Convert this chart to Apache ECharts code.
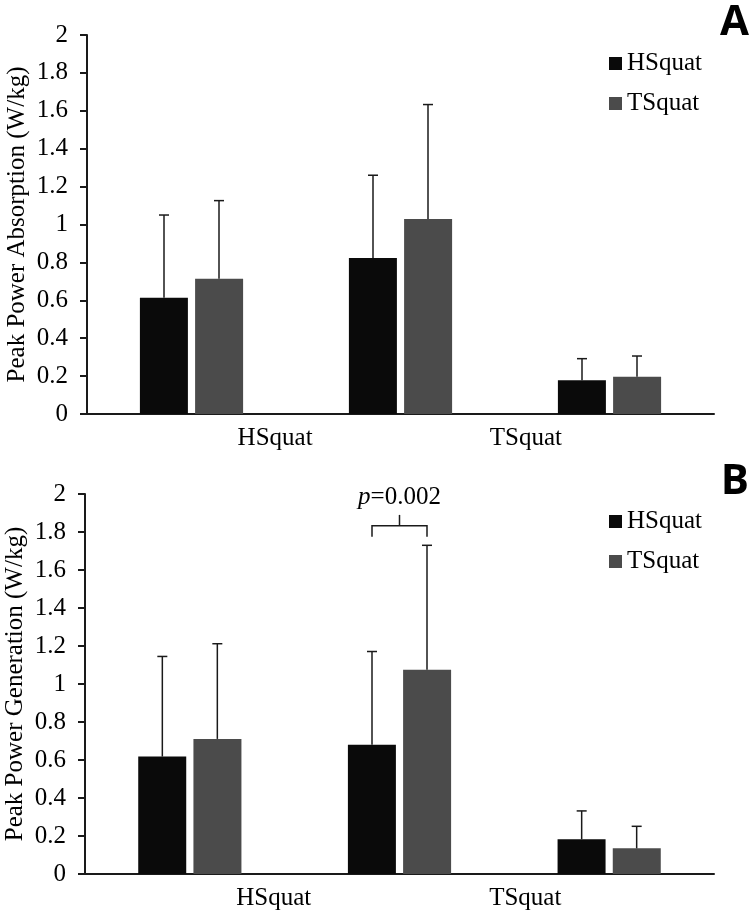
<!DOCTYPE html>
<html lang="en">
<head>
    <meta charset="UTF-8">
    <title>Peak Power</title>
    <style>
        * {
            margin: 0;
            padding: 0;
        }

        .main {
            width: 752px;
            height: 915px;
            background: #fff;
        }
    </style>
</head>
<body>
<div id="main" class="main"></div>
<script src="https://cdn.jsdelivr.net/npm/echarts@6/dist/echarts.min.js"></script>
<script>
    var categories = ['1', '2', '3'];
    var xLabels = ['', 'HSquat', '', 'TSquat', ''];
    var seriesNames = ['HSquat', 'TSquat'];
    var yTicks = [0, 2, 0.2];  // min, max, interval

    // A: peak power absorption (mean, sd)
    var absorbH = [0.614, 0.823, 0.178];
    var absorbHsd = [0.436, 0.437, 0.114];
    var absorbT = [0.714, 1.029, 0.197];
    var absorbTsd = [0.412, 0.604, 0.109];

    // B: peak power generation (mean, sd)
    var genH = [0.618, 0.680, 0.183];
    var genHsd = [0.527, 0.491, 0.149];
    var genT = [0.711, 1.075, 0.135];
    var genTsd = [0.501, 0.655, 0.116];

    // significance bracket in B, between the two bars of category 2
    var sigCategory = 1;
    var sigLevels = [1.775, 1.833, 1.89, 1.98]; // leg end, bar, tip, label
    var sigText = '0.002';

    var font = 'Liberation Serif';
    var colors = ['#0a0a0a', '#4b4b4b'];
    var barOffset = 27.5;

    var myChart = echarts.init(document.getElementById('main'), null, {renderer: 'canvas'});

    function errData(mean, sd) {
        return mean.map(function (m, i) {
            return [i, m, sd[i]];
        });
    }

    function errorBar(offset) {
        return function (params, api) {
            var c = api.value(0), m = api.value(1), s = api.value(2);
            var base = api.coord([c, m]);
            var top = api.coord([c, m + s]);
            var x = base[0] + offset;
            var st = {stroke: '#1a1a1a', lineWidth: 1.5};
            return {
                type: 'group',
                children: [
                    {type: 'line', shape: {x1: x, y1: base[1], x2: x, y2: top[1]}, style: st},
                    {type: 'line', shape: {x1: x - 5, y1: top[1], x2: x + 5, y2: top[1]}, style: st}
                ]
            };
        };
    }

    function bracket(params, api) {
        var c = api.value(0);
        var leg = api.coord([c, sigLevels[0]]);
        var bar = api.coord([c, sigLevels[1]]);
        var tip = api.coord([c, sigLevels[2]]);
        var lab = api.coord([c, sigLevels[3]]);
        var x1 = leg[0] - barOffset, x2 = leg[0] + barOffset;
        var st = {stroke: '#1a1a1a', lineWidth: 1.5, fill: null};
        return {
            type: 'group',
            children: [
                {type: 'polyline', shape: {points: [[x1, leg[1]], [x1, bar[1]], [x2, bar[1]], [x2, leg[1]]]}, style: st},
                {type: 'line', shape: {x1: leg[0], y1: bar[1], x2: leg[0], y2: tip[1]}, style: st},
                {
                    type: 'text', x: leg[0], y: lab[1],
                    style: {
                        text: '{i|p}=' + sigText, align: 'center', verticalAlign: 'middle',
                        fontFamily: font, fontSize: 25, fill: '#000',
                        rich: {i: {fontStyle: 'italic', fontFamily: font, fontSize: 25}}
                    }
                }
            ]
        };
    }

    function panelAxes(idx) {
        return {
            x: [{
                gridIndex: idx, type: 'category', data: categories,
                axisLine: {lineStyle: {color: '#1a1a1a', width: 2}},
                axisTick: {show: false},
                axisLabel: {show: false}
            }, {
                gridIndex: idx, type: 'category', data: xLabels, position: 'bottom',
                axisLine: {show: false},
                axisTick: {show: false},
                axisLabel: {show: true, interval: 0, margin: 12, fontFamily: font, fontSize: 25, color: '#000'}
            }],
            y: {
                gridIndex: idx, type: 'value', min: yTicks[0], max: yTicks[1], interval: yTicks[2],
                name: idx === 0 ? 'Peak Power Absorption (W/kg)' : 'Peak Power Generation (W/kg)',
                nameLocation: 'middle', nameGap: 57, nameMoveOverlap: false,
                nameTextStyle: {fontFamily: font, fontSize: 25, color: '#000'},
                axisLine: {show: true, lineStyle: {color: '#1a1a1a', width: 2}},
                axisTick: {show: true, length: 7, lineStyle: {color: '#1a1a1a', width: 2}},
                axisLabel: {margin: 19, fontFamily: font, fontSize: 25, color: '#000'},
                splitLine: {show: false}
            }
        };
    }

    var axA = panelAxes(0), axB = panelAxes(1);

    function barSeries(name, xi, yi, data, color) {
        return {
            name: name, type: 'bar', xAxisIndex: xi, yAxisIndex: yi,
            data: data, barWidth: 48, barGap: '15%',
            itemStyle: {color: color}
        };
    }

    function errSeries(xi, yi, mean, sd, offset) {
        return {
            type: 'custom', xAxisIndex: xi, yAxisIndex: yi,
            data: errData(mean, sd), renderItem: errorBar(offset),
            encode: {x: 0, y: 1}, z: 3, silent: true
        };
    }

    var legendStyle = {
        orient: 'vertical', left: 609, padding: 0, itemWidth: 13, itemHeight: 13, itemGap: 15,
        icon: 'rect', data: seriesNames,
        textStyle: {fontFamily: font, fontSize: 25, lineHeight: 25, color: '#000'}
    };

    myChart.setOption({
        animation: false,
        backgroundColor: '#fff',
        color: colors,
        legend: [
            Object.assign({}, legendStyle, {top: 51}),
            Object.assign({}, legendStyle, {top: 509})
        ],
        grid: [
            {left: 87, right: 38, top: 35, height: 379, outerBoundsMode: 'none', containLabel: false},
            {left: 85, right: 38, top: 494, height: 380, outerBoundsMode: 'none', containLabel: false}
        ],
        xAxis: axA.x.concat(axB.x),
        yAxis: [axA.y, axB.y],
        graphic: [
            {type: 'text', right: 3, top: 2, style: {text: 'A', fontFamily: 'Open Sans', fontWeight: 'bold', fontSize: 42, fill: '#000'}},
            {type: 'text', right: 3, top: 461, style: {text: 'B', fontFamily: 'Open Sans', fontWeight: 'bold', fontSize: 42, fill: '#000'}}
        ],
        series: [
            barSeries(seriesNames[0], 0, 0, absorbH, colors[0]),
            barSeries(seriesNames[1], 0, 0, absorbT, colors[1]),
            errSeries(0, 0, absorbH, absorbHsd, -barOffset),
            errSeries(0, 0, absorbT, absorbTsd, barOffset),
            barSeries(seriesNames[0], 2, 1, genH, colors[0]),
            barSeries(seriesNames[1], 2, 1, genT, colors[1]),
            errSeries(2, 1, genH, genHsd, -barOffset),
            errSeries(2, 1, genT, genTsd, barOffset),
            {
                type: 'custom', xAxisIndex: 2, yAxisIndex: 1,
                data: [[sigCategory]], renderItem: bracket,
                encode: {x: 0}, z: 4, silent: true
            }
        ]
    });
</script>
</body>
</html>
